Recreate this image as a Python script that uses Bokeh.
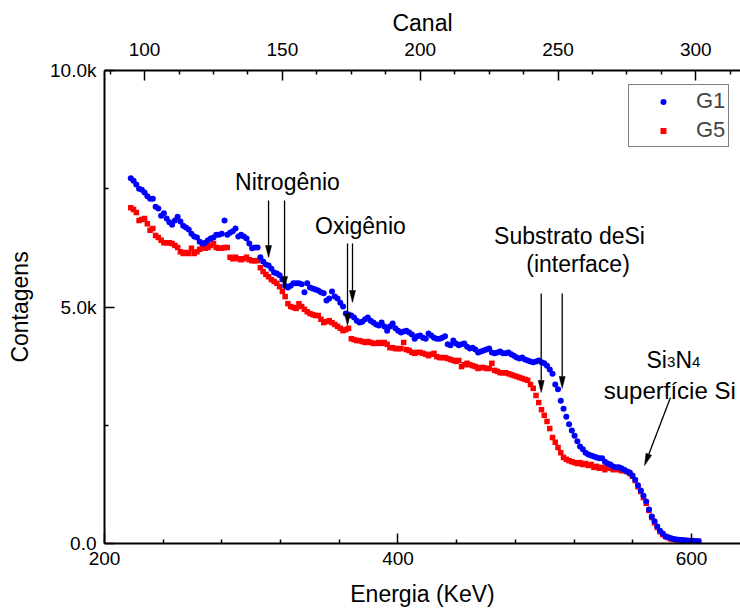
import math
from bokeh.plotting import figure
from bokeh.models import Range1d, LinearAxis, FixedTicker, Legend, LegendItem, ColumnDataSource
from bokeh.core.properties import value
from bokeh.embed import file_html
from bokeh.resources import INLINE

# ---------------- data ----------------
canal = list(range(95, 302))  # channel numbers

g1 = [
    7720, 7670, 7590, 7500, 7480, 7420, 7340, 7290, 7290, 7120,
    7080, 6930, 6980, 6870, 6790, 6740, 6830, 6910, 6810, 6720,
    6680, 6640, 6550, 6490, 6470, 6380, 6340, 6360, 6410, 6450,
    6470, 6530, 6530, 6550, 6830, 6530, 6570, 6600, 6660, 6490,
    6530, 6490, 6450, 6340, 6240, 6260, 6260, 6050, 5960, 5900,
    5880, 5810, 5730, 5710, 5670, 5580, 5450, 5410, 5450, 5500,
    5500, 5500, 5480, 5310, 5500, 5410, 5390, 5370, 5350, 5310,
    5290, 5140, 5180, 5330, 5220, 5180, 5090, 5010, 4860, 4840,
    4820, 4780, 4710, 4670, 4690, 4740, 4780, 4710, 4670, 4630,
    4610, 4670, 4590, 4500, 4590, 4650, 4550, 4500, 4460, 4480,
    4500, 4460, 4420, 4330, 4380, 4400, 4350, 4330, 4440, 4400,
    4350, 4330, 4330, 4350, 4380, 4210, 4190, 4290, 4230, 4190,
    4210, 4230, 4160, 4120, 4140, 4100, 4040, 4060, 4080, 4100,
    4120, 4040, 4020, 4040, 4060, 4020, 4020, 4040, 4000, 3970,
    3930, 3910, 3930, 3890, 3870, 3850, 3830, 3850, 3870, 3830,
    3810, 3760, 3680, 3590, 3360, 3260, 3020, 2850, 2680, 2520,
    2390, 2280, 2160, 2050, 1990, 1920, 1880, 1860, 1840, 1820,
    1800, 1800, 1730, 1690, 1670, 1630, 1610, 1610, 1590, 1560,
    1520, 1500, 1440, 1350, 1230, 1120, 1010, 890, 720, 570,
    470, 360, 270, 210, 150, 130, 110, 95, 85, 80,
    75, 70, 65, 60, 60, 55, 50,
]

g5 = [
    7100, 7060, 7000, 6830, 6850, 6870, 6760, 6620, 6660, 6510,
    6470, 6410, 6360, 6360, 6360, 6340, 6300, 6260, 6170, 6130,
    6150, 6130, 6240, 6130, 6170, 6220, 6260, 6240, 6260, 6300,
    6340, 6260, 6240, 6240, 6260, 6260, 6050, 6020, 6050, 6020,
    6000, 6020, 6050, 6000, 5980, 5980, 5980, 5830, 5750, 5690,
    5640, 5580, 5540, 5500, 5430, 5330, 5220, 5070, 5010, 4990,
    4970, 5070, 5010, 4950, 4900, 4860, 4840, 4820, 4820, 4740,
    4670, 4690, 4710, 4670, 4630, 4590, 4550, 4500, 4520, 4550,
    4330, 4310, 4290, 4290, 4270, 4250, 4270, 4250, 4230, 4230,
    4250, 4230, 4250, 4210, 4140, 4140, 4120, 4120, 4120, 4250,
    4100, 4080, 4040, 4020, 4040, 4040, 4020, 4000, 3970, 4000,
    4020, 3950, 3930, 3930, 3930, 3910, 3890, 3870, 3850, 3870,
    3740, 3780, 3810, 3780, 3760, 3740, 3700, 3720, 3720, 3700,
    3700, 3810, 3660, 3640, 3610, 3610, 3610, 3590, 3570, 3550,
    3530, 3510, 3490, 3470, 3450, 3360, 3280, 3130, 2980, 2830,
    2710, 2580, 2430, 2240, 2140, 2030, 1920, 1820, 1780, 1750,
    1730, 1710, 1690, 1710, 1670, 1690, 1650, 1670, 1610, 1630,
    1590, 1610, 1560, 1610, 1590, 1560, 1590, 1560, 1540, 1540,
    1520, 1480, 1420, 1330, 1200, 1100, 970, 850, 700, 550,
    440, 340, 250, 190, 150, 120, 95, 85, 75, 75,
    65, 60, 60, 55, 55, 50, 50,
]

series_labels = ["G1", "G5"]
energy_ticks = [200, 400, 600]
energy_minor = [240, 280, 320, 360, 440, 480, 520, 560, 640]
canal_ticks = [100, 150, 200, 250, 300]
canal_minor = [87.5, 112.5, 125, 137.5, 162.5, 175, 187.5, 212.5, 225, 237.5,
               262.5, 275, 287.5, 312.5]
count_ticks = [0, 5000, 10000]
count_minor = [2500, 7500]
count_tick_labels = {0: "0.0", 5000: "5.0k", 10000: "10.0k"}

# annotation texts (energy keV, counts)
ann_text = ["Nitrogênio", "Oxigênio", "Substrato deSi", "(interface)"]
ann_x = [324.7, 374.4, 516.9, 522.7]
ann_y = [7653, 6723, 6511, 5919]

arrows = [
    (311.8, 7251, 311.8, 6046),
    (322.7, 7251, 322.7, 5391),
    (365.6, 6342, 365.6, 4609),
    (369.0, 6342, 369.0, 5095),
    (497.6, 5285, 497.6, 3192),
    (511.9, 5285, 511.9, 3277),
    (585.7, 3086, 568.0, 1649),
]

# ---------------- layout ----------------
FONT = "Liberation Sans"
W, H = 740, 610
LEFT, RIGHT, TOP, BOTTOM = 104, 0, 70, 67
E_MIN, E_MAX = 200, 633.4
C_MIN, C_MAX = 85.46, 316.2
Y_MAX = 10000

p = figure(width=W, height=H, x_range=Range1d(E_MIN, E_MAX), y_range=Range1d(0, Y_MAX),
           output_backend="svg", toolbar_location=None,
           min_border_left=LEFT, min_border_right=RIGHT,
           min_border_top=TOP, min_border_bottom=BOTTOM)
p.extra_x_ranges = {"canal": Range1d(C_MIN, C_MAX)}
p.outline_line_color = None
p.xgrid.visible = False
p.ygrid.visible = False
p.background_fill_color = "white"
p.border_fill_color = "white"


def style(ax, title, standoff, title_standoff):
    ax.axis_label = title
    ax.axis_label_text_font = FONT
    ax.axis_label_text_font_size = "23px"
    ax.axis_label_text_font_style = "normal"
    ax.axis_label_text_color = "black"
    ax.axis_label_standoff = title_standoff
    ax.major_label_text_font = FONT
    ax.major_label_text_font_size = "19px"
    ax.major_label_text_color = "black"
    ax.major_label_standoff = standoff
    ax.axis_line_width = 2
    ax.axis_line_color = "black"
    ax.major_tick_in = 10
    ax.major_tick_out = 0
    ax.minor_tick_in = 4
    ax.minor_tick_out = 0
    ax.major_tick_line_width = 1.5
    ax.minor_tick_line_width = 1.5
    ax.major_tick_line_color = "black"
    ax.minor_tick_line_color = "black"


bx = p.xaxis[0]
style(bx, "Energia (KeV)", 8, 13)
bx.ticker = FixedTicker(ticks=energy_ticks, minor_ticks=energy_minor)

ly = p.yaxis[0]
style(ly, "Contagens", 8, 14)
ly.ticker = FixedTicker(ticks=count_ticks, minor_ticks=count_minor)
ly.major_label_overrides = count_tick_labels

top = LinearAxis(x_range_name="canal")
style(top, "Canal", 15, 4)
top.ticker = FixedTicker(ticks=canal_ticks, minor_ticks=canal_minor)
p.add_layout(top, "above")

src = ColumnDataSource(data=dict(canal=canal, g1=g1, g5=g5))
r5 = p.scatter(x="canal", y="g5", source=src, x_range_name="canal", marker="square",
               size=5.5, fill_color="#ff0000", line_color=None)
r1 = p.scatter(x="canal", y="g1", source=src, x_range_name="canal", marker="circle",
               size=6, fill_color="#0000ff", line_color=None)

# arrows
SX = (W - LEFT - RIGHT) / (E_MAX - E_MIN)
SY = (H - TOP - BOTTOM) / Y_MAX
HEAD_L, HEAD_HW = 12, 3
lx, ly_, hx, hy = [], [], [], []
for x0, y0, x1, y1 in arrows:
    dx = (x1 - x0) * SX
    dy = (y1 - y0) * SY
    L = math.hypot(dx, dy)
    ux, uy = dx / L, dy / L
    bxp, byp = -ux * HEAD_L, -uy * HEAD_L
    pxp, pyp = -uy * HEAD_HW, ux * HEAD_HW
    hx.append([x1, x1 + (bxp + pxp) / SX, x1 + (bxp - pxp) / SX])
    hy.append([y1, y1 + (byp + pyp) / SY, y1 + (byp - pyp) / SY])
    lx.append([x0, x1 + bxp / SX])
    ly_.append([y0, y1 + byp / SY])
p.multi_line(lx, ly_, line_color="black", line_width=1.3)
p.patches(hx, hy, fill_color="black", line_color="black", line_width=0.5)

# annotation texts
p.text(x=ann_x, y=ann_y, text=ann_text, text_font=value(FONT), text_font_size=value("23px"),
       text_align="center", text_baseline="middle", text_color="black")
p.text(x=[569.3] * 4, y=[3883] * 4, text=["Si", "3", "N", "4"],
       x_offset=[0, 20.5, 29, 45.5], y_offset=[0, 2, 0, 2],
       text_font=value(FONT), text_font_size=["23px", "15px", "23px", "15px"],
       text_align="left", text_baseline="alphabetic", text_color="black")
p.text(x=[540.2], y=[3234], text=["superfície Si"], text_font=value(FONT),
       text_font_size=value("24px"), text_align="left", text_baseline="alphabetic",
       text_color="black")

legend = Legend(items=[LegendItem(label=series_labels[0], renderers=[r1]),
                       LegendItem(label=series_labels[1], renderers=[r5])],
                location=(524, 396), margin=0, padding=3, spacing=3,
                glyph_width=62, glyph_height=15, label_height=20, label_standoff=2,
                label_text_font=FONT, label_text_font_size="22px",
                border_line_color="black", border_line_width=1,
                background_fill_color="white", background_fill_alpha=1)
p.add_layout(legend, "center")

open("out.html", "w").write(file_html(p, INLINE))
